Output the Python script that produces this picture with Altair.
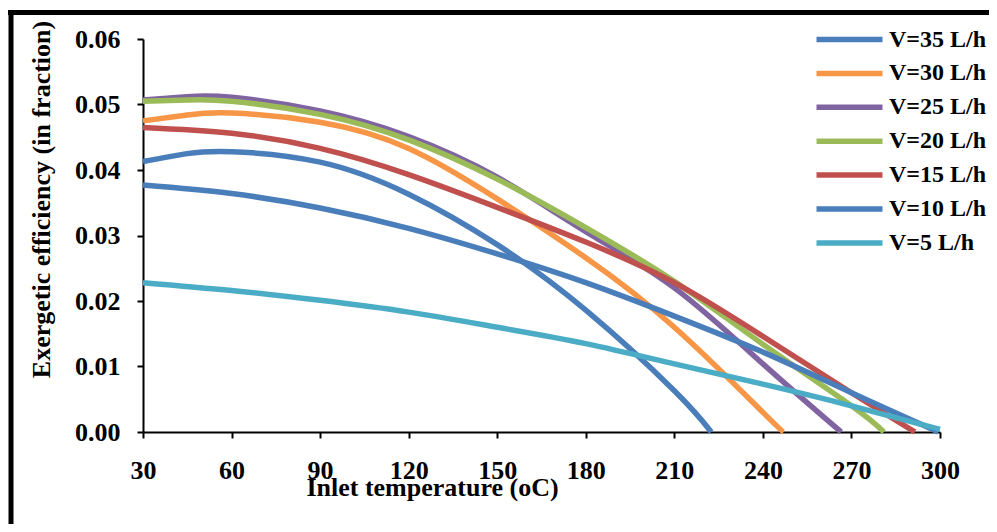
import altair as alt
import pandas as pd

# ---- data ----
series_names = ["V=35 L/h", "V=30 L/h", "V=25 L/h", "V=20 L/h", "V=15 L/h", "V=10 L/h", "V=5 L/h"]
series_colors = ["#4A7EBB", "#F79646", "#8064A2", "#9BBB59", "#C0504D", "#4A7EBB", "#4BACC6"]
series_widths = [5.5, 5.5, 5.5, 5.5, 5.5, 5.5, 4]

temp_v35 = [30, 45, 60, 90, 120, 150, 180, 210, 222.5]
eff_v35 = [0.0413, 0.0425, 0.0428, 0.0412, 0.0363, 0.0286, 0.0186, 0.0063, 0.0]

temp_v30 = [30, 45, 60, 90, 120, 150, 180, 210, 240, 247]
eff_v30 = [0.0475, 0.0484, 0.0487, 0.0473, 0.0433, 0.0356, 0.0266, 0.0160, 0.0030, 0.0]

temp_v25 = [30, 45, 60, 90, 120, 150, 180, 210, 240, 266.5]
eff_v25 = [0.0507, 0.0512, 0.0511, 0.0490, 0.0451, 0.0389, 0.0306, 0.0220, 0.0104, 0.0]

temp_v20 = [30, 45, 60, 90, 120, 150, 180, 210, 240, 270, 281]
eff_v20 = [0.0505, 0.0507, 0.0505, 0.0485, 0.0446, 0.0386, 0.0312, 0.0230, 0.0134, 0.0040, 0.0]

temp_v15 = [30, 60, 90, 120, 150, 180, 210, 240, 270, 291.5]
eff_v15 = [0.0465, 0.0456, 0.0433, 0.0393, 0.0343, 0.0290, 0.0228, 0.0146, 0.0060, 0.0]

temp_v10 = [30, 60, 90, 120, 150, 180, 210, 240, 270, 299.5]
eff_v10 = [0.0377, 0.0364, 0.0342, 0.0311, 0.0272, 0.0228, 0.0177, 0.0122, 0.0060, 0.0]

temp_v5 = [30, 60, 90, 120, 150, 180, 210, 240, 270, 300]
eff_v5 = [0.0228, 0.0216, 0.0201, 0.0183, 0.0160, 0.0135, 0.0104, 0.0073, 0.0040, 0.0004]

x_ticks = [30, 60, 90, 120, 150, 180, 210, 240, 270, 300]
y_ticks = [0.0, 0.01, 0.02, 0.03, 0.04, 0.05, 0.06]

x_title = "Inlet temperature (oC)"
y_title = "Exergetic efficiency (in fraction)"

# ---- build table ----
all_temps = [temp_v35, temp_v30, temp_v25, temp_v20, temp_v15, temp_v10, temp_v5]
all_effs = [eff_v35, eff_v30, eff_v25, eff_v20, eff_v15, eff_v10, eff_v5]
rows = []
for k, (name, xs, ys) in enumerate(zip(series_names, all_temps, all_effs)):
    for x, y in zip(xs, ys):
        rows.append({"series": name, "temp": x, "eff": y, "k": k})
df = pd.DataFrame(rows)

FONT = "Liberation Serif"
PLOT_W, PLOT_H = 797, 393
PAD = {"left": 135, "top": 31, "right": 49, "bottom": 92}

lines = alt.Chart(df).mark_line(interpolate="natural", strokeCap="butt").encode(
    x=alt.X(
        "temp:Q",
        scale=alt.Scale(domain=[30, 300], nice=False, zero=False),
        axis=alt.Axis(
            values=x_ticks, title=x_title, grid=False,
            domainColor="black", domainWidth=2, tickColor="black", tickWidth=2, tickSize=6,
            labelFont=FONT, labelFontSize=26, labelFontWeight="bold", labelColor="black",
            labelPadding=19, labelFlush=False,
            titleFont=FONT, titleFontSize=26, titleFontWeight="bold", titleColor="black",
            titleX=289, titleY=63, titleAlign="center", titleBaseline="alphabetic",
        ),
    ),
    y=alt.Y(
        "eff:Q",
        scale=alt.Scale(domain=[0, 0.06], nice=False),
        axis=alt.Axis(
            values=y_ticks, format=".2f", title=y_title, grid=False,
            domainColor="black", domainWidth=2, tickColor="black", tickWidth=2, tickSize=6,
            labelFont=FONT, labelFontSize=26, labelFontWeight="bold", labelColor="black",
            labelPadding=17, labelFlush=False,
            titleFont=FONT, titleFontSize=26, titleFontWeight="bold", titleColor="black",
            titleX=-94, titleY=160, titleAngle=270, titleAlign="center", titleBaseline="alphabetic",
        ),
    ),
    color=alt.Color(
        "series:N",
        scale=alt.Scale(domain=series_names, range=series_colors),
        legend=alt.Legend(
            title=None, orient="none", legendX=687, legendY=-19,
            symbolType="M-2,0H2", symbolSize=1089, symbolStrokeWidth=5.5,
            labelFont=FONT, labelFontSize=24, labelFontWeight="bold", labelColor="black",
            labelOffset=20, rowPadding=1.9, padding=0,
        ),
    ),
    strokeWidth=alt.StrokeWidth(
        "series:N", scale=alt.Scale(domain=series_names, range=series_widths), legend=None
    ),
)

frame_df = pd.DataFrame({"k": [0]})
top_border = alt.Chart(frame_df).mark_rule(color="black", strokeWidth=5).encode(
    x=alt.value(-135), x2=alt.value(846), y=alt.value(-26.5)
)
left_border = alt.Chart(frame_df).mark_rule(color="black", strokeWidth=5).encode(
    x=alt.value(-132), y=alt.value(-29), y2=alt.value(485)
)

chart = alt.layer(lines, top_border, left_border).properties(
    width=PLOT_W, height=PLOT_H,
    padding=PAD,
    autosize=alt.AutoSizeParams(type="none"),
    background="white",
).configure_view(stroke=None)

chart.save("out.html", embed_options={"renderer": "svg", "actions": False})
